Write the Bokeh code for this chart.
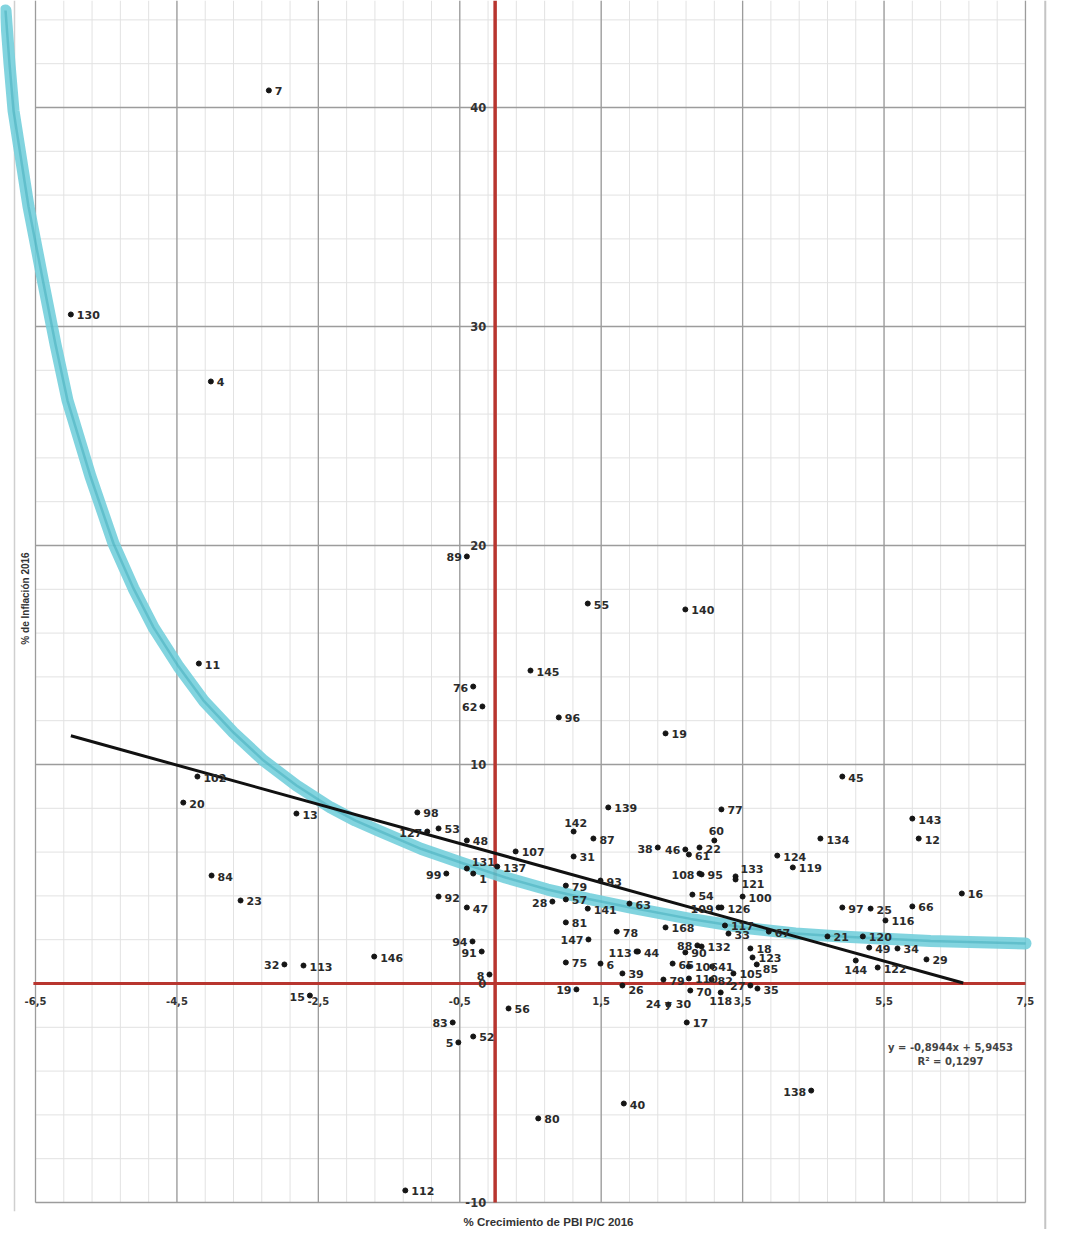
import numpy as np
from bokeh.plotting import figure
from bokeh.models import Range1d
from bokeh.embed import file_html
from bokeh.resources import INLINE
from bokeh.core.properties import value

# ---------------- data ----------------
labels = ["7", "130", "4", "11", "89", "55", "140", "145", "76", "62",
          "96", "19", "45", "102", "20", "13", "98", "53", "127", "48",
          "107", "139", "142", "87", "31", "38", "46", "61", "22", "60",
          "77", "134", "143", "12", "124", "119", "133", "121", "108", "95",
          "100", "54", "109", "126", "16", "97", "25", "66", "116", "117",
          "33", "67", "21", "120", "49", "34", "29", "144", "122", "18",
          "123", "85", "88", "132", "90", "65", "106", "41", "105", "79",
          "110", "82", "70", "27", "35", "118", "17", "24 y 30", "26", "39",
          "6", "75", "19", "56", "81", "78", "147", "113", "44", "168",
          "63", "141", "57", "28", "79", "93", "131", "1", "137", "99",
          "92", "47", "94", "91", "8", "146", "113", "32", "15", "83",
          "5", "52", "80", "40", "112", "138", "84", "23"]

growth = [-3.20, -6.00, -4.02, -4.19, -0.40, 1.31, 2.69, 0.50, -0.31, -0.18,
          0.90, 2.41, 4.91, -4.21, -4.41, -2.81, -1.10, -0.80, -0.96, -0.40,
          0.29, 1.60, 1.11, 1.39, 1.11, 2.30, 2.69, 2.74, 2.89, 3.10,
          3.20, 4.60, 5.90, 5.99, 3.99, 4.21, 3.40, 3.40, 2.89, 2.92,
          3.50, 2.79, 3.16, 3.20, 6.60, 4.91, 5.31, 5.90, 5.52, 3.25,
          3.30, 3.87, 4.70, 5.20, 5.29, 5.69, 6.10, 5.10, 5.41, 3.61,
          3.64, 3.70, 2.86, 2.92, 2.69, 2.51, 2.74, 3.07, 3.37, 2.38,
          2.74, 3.06, 2.76, 3.61, 3.71, 3.19, 2.71, 2.45, 1.80, 1.80,
          1.49, 1.00, 1.15, 0.19, 1.00, 1.72, 1.32, 2.00, 2.02, 2.41,
          1.90, 1.31, 1.00, 0.81, 1.00, 1.49, -0.40, -0.31, 0.03, -0.69,
          -0.80, -0.40, -0.32, -0.19, -0.08, -1.71, -2.71, -2.98, -2.62, -0.60,
          -0.52, -0.31, 0.61, 1.82, -1.27, 4.47, -4.01, -3.60]

inflation = [40.78, 30.55, 27.49, 14.61, 19.50, 17.35, 17.08, 14.29, 13.56, 12.65,
             12.15, 11.42, 9.45, 9.45, 8.26, 7.76, 7.81, 7.08, 6.94, 6.53,
             6.03, 8.04, 6.94, 6.62, 5.80, 6.21, 6.12, 5.89, 6.21, 6.53,
             7.95, 6.62, 7.53, 6.62, 5.84, 5.30, 4.89, 4.75, 5.02, 4.98,
             3.97, 4.06, 3.47, 3.47, 4.11, 3.47, 3.42, 3.52, 2.88, 2.65,
             2.28, 2.37, 2.15, 2.15, 1.64, 1.60, 1.10, 1.05, 0.73, 1.60,
             1.19, 0.87, 1.74, 1.69, 1.42, 0.91, 0.78, 0.78, 0.46, 0.18,
             0.23, 0.18, -0.32, -0.09, -0.23, -0.41, -1.78, -0.96, -0.09, 0.46,
             0.91, 0.96, -0.27, -1.14, 2.79, 2.37, 2.01, 1.46, 1.46, 2.56,
             3.65, 3.42, 3.84, 3.74, 4.47, 4.70, 5.25, 5.02, 5.34, 5.02,
             3.97, 3.47, 1.92, 1.46, 0.41, 1.23, 0.82, 0.87, -0.55, -1.78,
             -2.69, -2.42, -6.16, -5.48, -9.45, -4.89, 4.93, 3.79]

# linear trend line shown on the chart
trend_slope = -0.8944
trend_intercept = 5.9453
trend_x = [-6.0, 6.62]
trend_text = ["y = -0,8944x + 5,9453", "R² = 0,1297"]

# cyan curved trend (read along the drawn band)
curve_x = [-6.924, -6.868, -6.811, -6.599, -6.387, -6.217, -6.047, -5.722, -5.397, -5.114,
           -4.831, -4.477, -4.124, -3.700, -3.275, -2.809, -2.328, -1.974, -1.621, -1.041,
           -0.447, 0.147, 0.741, 1.321, 1.915, 2.763, 3.612, 4.248, 4.885, 6.158, 7.501]
curve_y = [44.43, 42.01, 39.86, 35.48, 31.96, 29.18, 26.62, 23.15, 20.09, 18.04,
           16.26, 14.47, 12.92, 11.46, 10.18, 9.04, 8.04, 7.44, 6.94, 6.14,
           5.48, 4.84, 4.29, 3.86, 3.47, 2.95, 2.51, 2.28, 2.15, 1.94, 1.83]

x_ticks = [-6.5, -4.5, -2.5, -0.5, 1.5, 3.5, 5.5, 7.5]
x_tick_labels = ["-6,5", "-4,5", "-2,5", "-0,5", "1,5", "3,5", "5,5", "7,5"]
y_ticks = [40, 30, 20, 10, 0, -10]
y_tick_labels = ["40", "30", "20", "10", "0", "-10"]

x_title = "% Crecimiento de PBI P/C 2016"
y_title = "% de Inflación 2016"

# ---------------- label placement (style only) ----------------
label_side = ["R", "R", "R", "R", "L", "R", "R", "R", "L", "L",
              "R", "R", "R", "R", "R", "R", "R", "R", "L", "R",
              "R", "R", "A", "R", "R", "L", "L", "R", "R", "A",
              "R", "R", "R", "R", "R", "R", "AR", "BR", "L", "R",
              "R", "R", "L", "R", "R", "R", "R", "R", "R", "R",
              "R", "R", "R", "R", "R", "R", "R", "B", "R", "R",
              "R", "BR", "L", "R", "R", "R", "R", "R", "R", "R",
              "R", "R", "R", "L", "R", "B", "R", "C", "BR", "R",
              "R", "R", "L", "R", "R", "R", "L", "L", "R", "R",
              "R", "R", "R", "L", "R", "R", "AR", "BR", "R", "L",
              "R", "R", "L", "L", "L", "R", "R", "L", "L", "L",
              "L", "R", "R", "R", "R", "L", "R", "R"]
side_style = {
    "R": ("left", 6, 1), "L": ("right", -5, 1), "A": ("center", 2, -9),
    "B": ("center", 0, 9), "C": ("center", 0, 0), "AR": ("left", 5, -7),
    "BR": ("left", 6, 5),
}

X_MIN, X_MAX = -6.5, 7.5
Y_MIN = -10
X_START, X_END = -6.995, 8.052
Y_START, Y_END = -11.233, 44.886

p = figure(width=1064, height=1229,
           x_range=Range1d(X_START, X_END), y_range=Range1d(Y_START, Y_END),
           output_backend="svg", toolbar_location=None,
           x_axis_location=None, y_axis_location=None, min_border=0)
p.grid.visible = False
p.outline_line_color = None
p.background_fill_color = "white"

# scan page borders
p.segment(x0=[-6.797], y0=[-10.4], x1=[-6.797], y1=[Y_END], line_color="#cfcfcf", line_width=1.5)
p.segment(x0=[7.78], y0=[Y_START], x1=[7.78], y1=[Y_END], line_color="#c4c4c4", line_width=2)

# minor grid
minor_x = np.arange(X_MIN, X_MAX + 1e-6, 0.4)
minor_y = np.arange(Y_MIN, Y_END, 2.0)
p.segment(x0=minor_x, y0=[Y_MIN] * len(minor_x), x1=minor_x, y1=[Y_END] * len(minor_x),
          line_color="#e2e2e2", line_width=1)
p.segment(x0=[X_MIN] * len(minor_y), y0=minor_y, x1=[X_MAX] * len(minor_y), y1=minor_y,
          line_color="#e2e2e2", line_width=1)
# major grid
p.segment(x0=x_ticks, y0=[Y_MIN] * len(x_ticks), x1=x_ticks, y1=[Y_END] * len(x_ticks),
          line_color="#9c9c9c", line_width=1.3)
p.segment(x0=[X_MIN] * len(y_ticks), y0=y_ticks, x1=[X_MAX] * len(y_ticks), y1=y_ticks,
          line_color="#9c9c9c", line_width=1.3)

# red axes
p.segment(x0=[0], y0=[Y_MIN], x1=[0], y1=[Y_END], line_color="#b8352f", line_width=3.5)
p.segment(x0=[X_MIN - 0.03], y0=[0], x1=[X_MAX], y1=[0], line_color="#b8352f", line_width=3)

# cyan curve
p.line(curve_x, curve_y, line_width=12, line_color="#74cfdc", line_alpha=0.9,
       line_cap="round", line_join="round")
p.line(curve_x, curve_y, line_width=2.5, line_color="#2f9fae", line_alpha=0.4,
       line_join="round")

# black linear trend
p.line(trend_x, [trend_slope * x + trend_intercept for x in trend_x],
       line_color="#111111", line_width=3)

# points
p.scatter(growth, inflation, size=5, color="#151515")

# point labels
for side in side_style:
    idx = [i for i, s in enumerate(label_side) if s == side]
    if not idx:
        continue
    align, dx, dy = side_style[side]
    p.text(x=[growth[i] for i in idx], y=[inflation[i] for i in idx],
           text=[labels[i] for i in idx], x_offset=dx, y_offset=dy,
           text_align=align, text_baseline="middle",
           text_font=value("DejaVu Sans"), text_font_style="bold",
           text_font_size="11px", text_color="#2a2a2a")

# tick labels
p.text(x=x_ticks, y=[0] * len(x_ticks), text=x_tick_labels, y_offset=18,
       text_align="center", text_baseline="middle",
       text_font=value("DejaVu Sans"), text_font_style="bold",
       text_font_size="10px", text_color="#333333")
p.text(x=[0] * len(y_ticks), y=y_ticks, text=y_tick_labels, x_offset=-9,
       text_align="right", text_baseline="middle",
       text_font=value("DejaVu Sans"), text_font_style="bold",
       text_font_size="11.5px", text_color="#333333")

# axis titles
p.text(x=[0.755], y=[-10.87], text=[x_title], text_align="center", text_baseline="middle",
       text_font=value("Liberation Sans"), text_font_style="bold",
       text_font_size="11.5px", text_color="#333333")
p.text(x=[-6.64], y=[17.58], text=[y_title], angle=np.pi / 2,
       text_align="center", text_baseline="middle",
       text_font=value("Liberation Sans"), text_font_style="bold",
       text_font_size="10px", text_color="#333333")

# equation
p.text(x=[6.44, 6.44], y=[-2.92, -3.56], text=trend_text,
       text_align="center", text_baseline="middle",
       text_font=value("DejaVu Sans"), text_font_style="bold",
       text_font_size="10px", text_color="#444444")

open("out.html", "w").write(file_html(p, INLINE))
